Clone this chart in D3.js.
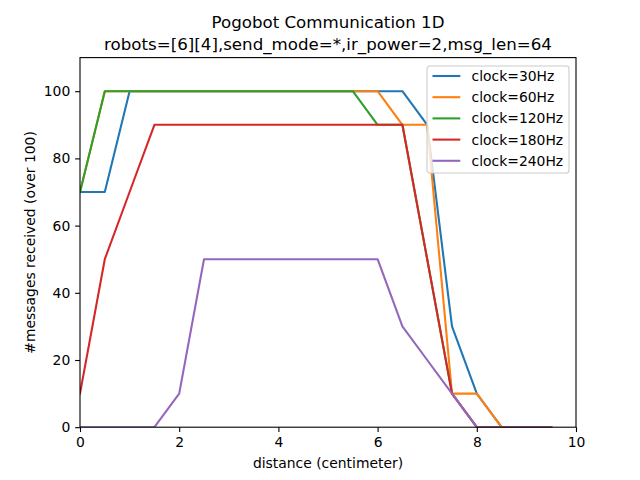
<!DOCTYPE html>
<html>
<head>
<meta charset="utf-8">
<script src="https://cdn.jsdelivr.net/npm/d3@7"></script>
<style>
  body { margin: 0; background: #fff; }
  svg { display: block; font-family: "DejaVu Sans", sans-serif; }
</style>
</head>
<body>
<svg id="chart" width="640" height="480"></svg>
<script>
// distance in centimeter
var distances = [0, 0.5, 1, 1.5, 2, 2.5, 3, 3.5, 4, 4.5, 5, 5.5, 6, 6.5, 7, 7.5, 8, 8.5, 9, 9.5];

// messages received per clock setting
var clock30  = [70, 70, 100, 100, 100, 100, 100, 100, 100, 100, 100, 100, 100, 100, 90, 30, 10, 0, 0, 0];
var clock60  = [70, 100, 100, 100, 100, 100, 100, 100, 100, 100, 100, 100, 100, 90, 90, 10, 10, 0, 0, 0];
var clock120 = [70, 100, 100, 100, 100, 100, 100, 100, 100, 100, 100, 100, 90, 90, 50, 10, 0, 0, 0, 0];
var clock180 = [10, 50, 70, 90, 90, 90, 90, 90, 90, 90, 90, 90, 90, 90, 50, 10, 0, 0, 0, 0];
var clock240 = [0, 0, 0, 0, 10, 50, 50, 50, 50, 50, 50, 50, 50, 30, 20, 10, 0, 0, 0, 0];

var seriesNames = ["clock=30Hz", "clock=60Hz", "clock=120Hz", "clock=180Hz", "clock=240Hz"];
var seriesValues = [clock30, clock60, clock120, clock180, clock240];
var colors = ["#1f77b4", "#ff7f0e", "#2ca02c", "#d62728", "#9467bd"];

var xTicks = [0, 2, 4, 6, 8, 10];
var yTicks = [0, 20, 40, 60, 80, 100];

var svg = d3.select("#chart");
var margin = { left: 80, right: 576, top: 57.6, bottom: 427.2 };

var x = d3.scaleLinear().domain([0, 10]).range([margin.left, margin.right]);
var y = d3.scaleLinear().domain([0, 110]).range([margin.bottom, margin.top]);

// Lines, clipped to the axes area
svg.append("clipPath").attr("id", "clip")
  .append("rect")
  .attr("x", margin.left).attr("y", margin.top)
  .attr("width", margin.right - margin.left)
  .attr("height", margin.bottom - margin.top);

var line = d3.line()
  .x((d, i) => x(distances[i]))
  .y(d => y(d));

seriesValues.forEach((vals, k) => {
  svg.append("path")
    .datum(vals)
    .attr("clip-path", "url(#clip)")
    .attr("fill", "none")
    .attr("stroke", colors[k])
    .attr("stroke-width", 2.08)
    .attr("stroke-linejoin", "round")
    .attr("stroke-linecap", "square")
    .attr("d", line);
});

// Axes
var xAxis = d3.axisBottom(x).tickValues(xTicks).tickSize(4.86).tickPadding(4.86).tickFormat(d3.format("d"));
var yAxis = d3.axisLeft(y).tickValues(yTicks).tickSize(4.86).tickPadding(4.86).tickFormat(d3.format("d"));

var gx = svg.append("g").attr("transform", "translate(0," + margin.bottom + ")").call(xAxis);
var gy = svg.append("g").attr("transform", "translate(" + margin.left + ",0)").call(yAxis);

[gx, gy].forEach(g => {
  g.select(".domain").remove();
  g.selectAll(".tick line").attr("stroke", "#000").attr("stroke-width", 1.1);
  g.selectAll(".tick text").attr("fill", "#000").style("font-size", "13.9px").style("font-family", "DejaVu Sans");
});

// Frame
svg.append("rect")
  .attr("x", margin.left).attr("y", margin.top)
  .attr("width", margin.right - margin.left)
  .attr("height", margin.bottom - margin.top)
  .attr("fill", "none")
  .attr("stroke", "#000")
  .attr("stroke-width", 1.1);

// Titles
svg.append("text")
  .attr("x", 328).attr("y", 28)
  .attr("text-anchor", "middle")
  .style("font-size", "16.67px")
  .text("Pogobot Communication 1D");
svg.append("text")
  .attr("x", 328).attr("y", 50)
  .attr("text-anchor", "middle")
  .style("font-size", "16.67px")
  .text("robots=[6][4],send_mode=*,ir_power=2,msg_len=64");

// Axis labels
svg.append("text")
  .attr("x", 328).attr("y", 468)
  .attr("text-anchor", "middle")
  .style("font-size", "13.9px")
  .text("distance (centimeter)");
svg.append("text")
  .attr("transform", "translate(35," + ((margin.top + margin.bottom) / 2) + ") rotate(-90)")
  .attr("text-anchor", "middle")
  .style("font-size", "13.9px")
  .text("#messages received (over 100)");

// Legend
var legend = svg.append("g").attr("transform", "translate(427,66)");
legend.append("rect")
  .attr("width", 142).attr("height", 107)
  .attr("rx", 2.8)
  .attr("fill", "#fff").attr("fill-opacity", 0.8)
  .attr("stroke", "#cccccc").attr("stroke-width", 1.1);

seriesNames.forEach((name, k) => {
  var row = legend.append("g").attr("transform", "translate(0," + (10 + k * 21.2) + ")");
  row.append("line")
    .attr("x1", 5.5).attr("x2", 33.3)
    .attr("y1", 0).attr("y2", 0)
    .attr("stroke", colors[k]).attr("stroke-width", 2.08);
  row.append("text")
    .attr("x", 44.6).attr("y", 5)
    .style("font-size", "13.9px")
    .text(name);
});
</script>
</body>
</html>
